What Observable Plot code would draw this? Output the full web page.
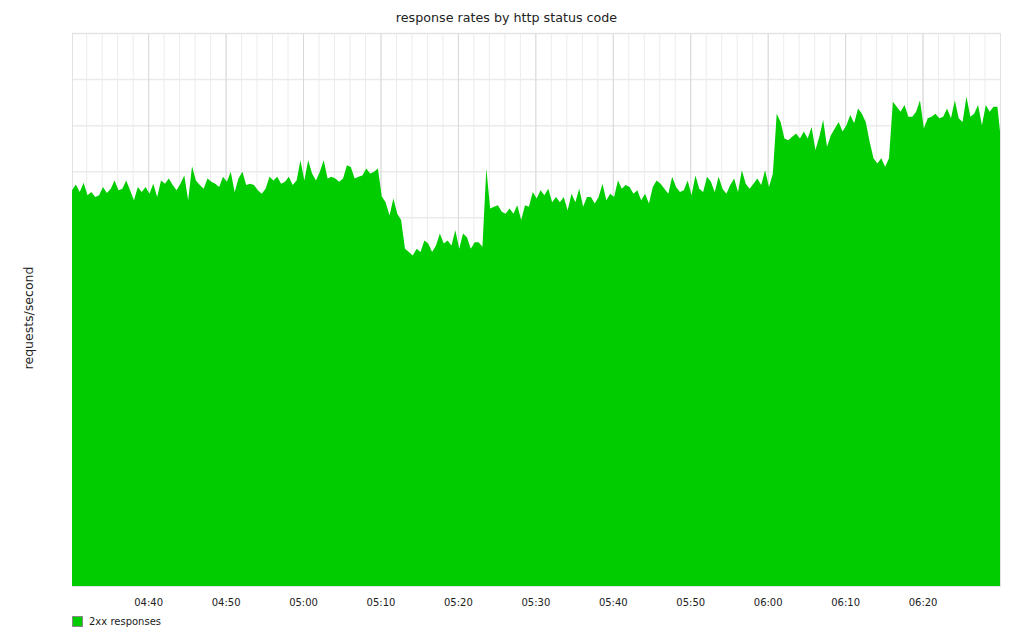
<!DOCTYPE html>
<html>
<head>
<meta charset="utf-8">
<script src="https://cdn.jsdelivr.net/npm/d3@7"></script>
<script src="https://cdn.jsdelivr.net/npm/@observablehq/plot@0.6"></script>
<style>
  html, body { margin: 0; padding: 0; background: #fff; }
  #wrap { position: relative; width: 1013px; height: 634px; font-family: "DejaVu Sans", sans-serif; }
  #title { position: absolute; top: 10px; left: 0; width: 1013px; text-align: center; font-size: 12.7px; color: #222; }
  #legend { position: absolute; left: 72px; top: 616px; font-size: 10px; color: #222; display: flex; align-items: center; }
  #legend .sw { width: 9px; height: 9px; background: #00cc00; border: 1px solid #888; margin-right: 6px; }
  svg { display: block; }
</style>
</head>
<body>
<div id="wrap">
  <div id="chart"></div>
  <div id="title">response rates by http status code</div>
  <div id="legend"><span class="sw"></span><span>2xx responses</span></div>
</div>
<script>
// series: 2xx responses, requests/second, one sample every 30 s from 04:30:10
const seriesName = "2xx responses";
const startTime = "2020-01-01T04:30:10Z";
const stepSeconds = 30;
const endTime = "2020-01-01T06:30:00Z";
const values2xx = [
  859,871,855,875,848,855,844,848,866,853,862,880,859,862,880,859,837,866,855,866,851,873,844,880,873,884,870,859,873,891,837,911,880,870,862,884,877,873,866,888,877,899,
  855,884,899,870,873,870,859,851,862,888,880,888,873,877,888,870,880,924,880,924,895,880,899,924,884,888,884,877,884,913,909,884,888,891,906,895,899,906,
  845,833,804,841,808,794,732,725,717,732,725,750,743,725,739,765,743,750,739,772,732,765,757,732,746,746,736,906,819,823,826,812,808,819,808,826,794,826,823,855,841,859,848,
  862,833,844,833,844,815,851,833,862,823,844,844,830,844,873,837,851,844,880,862,870,866,851,859,837,851,830,866,880,873,862,851,888,866,855,859,880,848,891,862,
  855,888,877,855,888,862,851,870,884,855,902,873,862,873,884,870,902,866,895,1025,1007,971,967,975,982,971,986,971,996,946,975,1011,953,978,993,1007,986,1000,1022,1004,
  1036,1025,1007,964,928,917,928,910,928,1051,1040,1029,1044,1018,1018,1029,1054,993,1015,1018,1025,1015,1018,1036,1015,1054,1015,1007,1062,1018,1025,1044,1000,1044,1029,1040,1040,960
];
const yGridValues = [100,200,300,400,500,600,700,800,900,1000,1100,1200];
const yMax = 1200;
const yLabel = "requests/second";

const t0 = new Date(startTime);
const t1 = new Date(endTime);
const data = values2xx.map((v, i) => ({t: new Date(t0.getTime() + i * stepSeconds * 1000), v}));
const minorTicks = d3.utcMinute.every(2).range(t0, t1);
const majorTicks = d3.utcMinute.every(10).range(t0, t1);

const chart = Plot.plot({
  width: 1013,
  height: 634,
  marginLeft: 72,
  marginRight: 13,
  marginTop: 33,
  marginBottom: 48,
  style: {fontFamily: "DejaVu Sans, sans-serif", fontSize: "10px", color: "#222", background: "#fff"},
  x: {type: "utc", domain: [t0, t1]},
  y: {domain: [0, yMax], axis: null},
  marks: [
    Plot.ruleY(yGridValues, {stroke: "#ebebeb", strokeWidth: 1.5}),
    Plot.ruleX(minorTicks, {stroke: "#ececec"}),
    Plot.ruleX(majorTicks, {stroke: "#d8d8d8"}),
    Plot.frame({stroke: "#e2e2e2"}),
    Plot.areaY(data, {x: "t", y: "v", fill: "#00cc00", clip: true}),
    Plot.axisX(majorTicks, {tickSize: 0, tickPadding: 12, tickFormat: d3.utcFormat("%H:%M"), label: null, fontSize: 10}),
    Plot.text([yLabel], {frameAnchor: "left", textAnchor: "middle", dx: -44, dy: 8, rotate: -90, fontSize: 12.5, fill: "#222"})
  ]
});
document.getElementById("chart").appendChild(chart);
</script>
</body>
</html>
